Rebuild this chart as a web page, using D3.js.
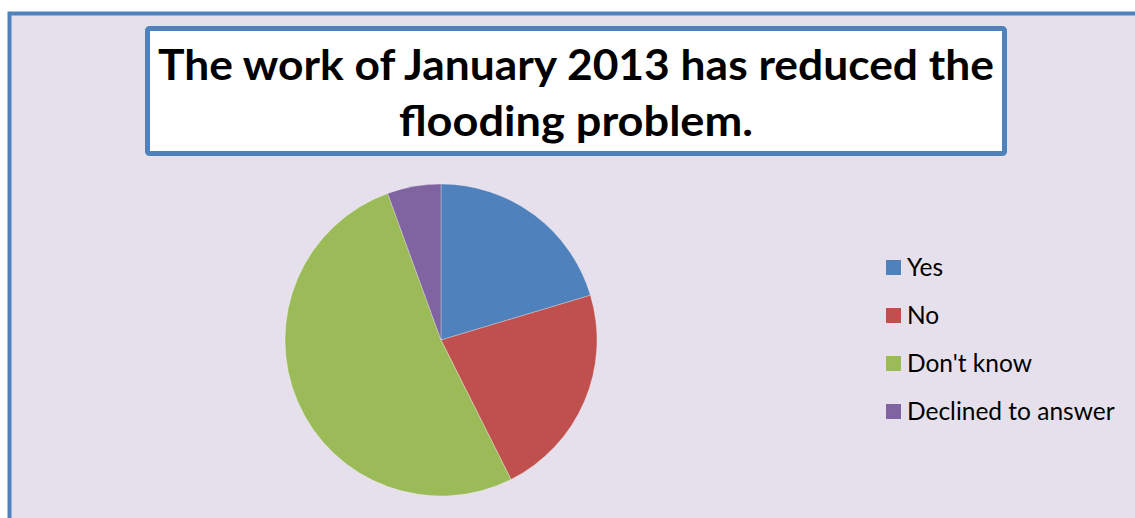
<!DOCTYPE html>
<html><head><meta charset="utf-8">
<script src="https://cdn.jsdelivr.net/npm/d3@7"></script>
<style>html,body{margin:0;padding:0;background:#fff;overflow:hidden}</style>
</head><body>
<script>
const categories = ["Yes", "No", "Don't know", "Declined to answer"];
const values = [11, 12, 28, 3];
const colors = ["#4F81BD", "#C0504D", "#9BBB59", "#8064A2"];
const titleLines = ["The work of January 2013 has reduced the", "flooding problem."];

const W = 1135, H = 518;
const svg = d3.select("body").append("svg").attr("width", W).attr("height", H);

// outer chart area
svg.append("rect").attr("x", 9.5).attr("y", 13.5).attr("width", W + 60).attr("height", H + 60)
  .attr("fill", "#E6E0EC").attr("stroke", "#4F81BD").attr("stroke-width", 4);

// title box
svg.append("rect").attr("x", 147.5).attr("y", 28.5).attr("width", 857).attr("height", 125)
  .attr("rx", 2).attr("fill", "#fff").attr("stroke", "#4F81BD").attr("stroke-width", 5);

const font = "Lato, 'Open Sans', sans-serif";
svg.append("text").attr("x", 576).attr("y", 80).attr("text-anchor", "middle")
  .attr("font-family", font).attr("font-weight", "bold").attr("font-size", 42)
  .attr("textLength", 836).attr("lengthAdjust", "spacingAndGlyphs")
  .text(titleLines[0]);
svg.append("text").attr("x", 576).attr("y", 136).attr("text-anchor", "middle")
  .attr("font-family", font).attr("font-weight", "bold").attr("font-size", 42)
  .attr("textLength", 354).attr("lengthAdjust", "spacingAndGlyphs")
  .text(titleLines[1]);

// pie
const cx = 441, cy = 340, r = 156;
const pie = d3.pie().sort(null).value(d => d)(values);
const arc = d3.arc().innerRadius(0).outerRadius(r);
svg.append("g").attr("transform", `translate(${cx},${cy})`)
  .selectAll("path").data(pie).join("path")
  .attr("d", arc).attr("fill", (d, i) => colors[i])
  .attr("stroke", "rgba(255,255,255,0.35)").attr("stroke-width", 0.8);

// legend
const ly = d3.scalePoint().domain(categories).range([267, 411]);
const lg = svg.append("g").selectAll("g").data(categories).join("g")
  .attr("transform", d => `translate(886,${ly(d)})`);
lg.append("rect").attr("x", 0).attr("y", -7).attr("width", 15).attr("height", 15)
  .attr("fill", (d, i) => colors[i]);
lg.append("text").attr("x", 21).attr("y", 8.5).attr("font-family", font).attr("font-size", 24.5)
  .attr("fill", "#000").text(d => d);
</script>
</body></html>
